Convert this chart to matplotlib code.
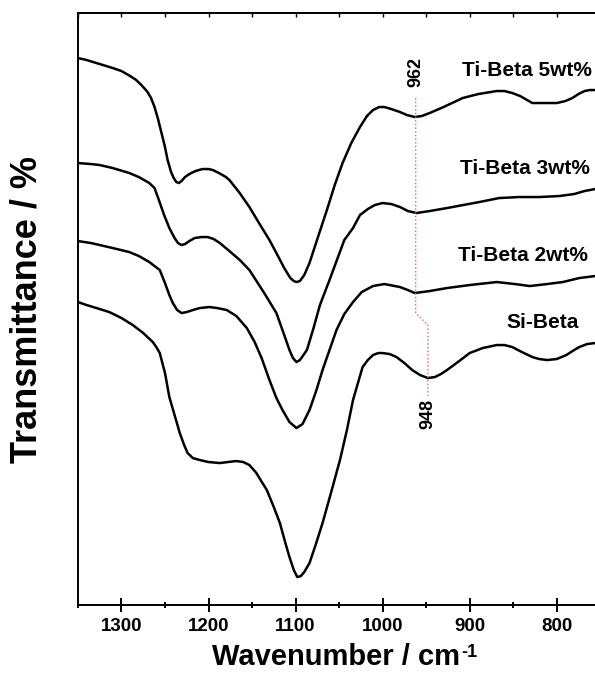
import matplotlib
matplotlib.use("Agg")
import matplotlib.pyplot as plt
from matplotlib.ticker import MultipleLocator

plt.rcParams["font.family"] = ["Liberation Sans", "DejaVu Sans"]
plt.rcParams["font.weight"] = "bold"

# FT-IR spectra, wavenumber (cm-1) vs transmittance (a.u.)
wn_5 = [1350, 1340, 1325, 1310, 1300, 1290, 1283, 1276, 1270, 1266, 1262, 1258, 1254,
        1250, 1247, 1243, 1240, 1237, 1234, 1231, 1227, 1222, 1215, 1207, 1200, 1195,
        1188, 1180, 1176, 1165, 1153, 1142, 1130, 1122, 1113, 1106, 1102, 1099, 1095,
        1090, 1084, 1075, 1064, 1055, 1046, 1036, 1026, 1018, 1011, 1004, 998, 990,
        980, 972, 963, 955, 946, 930, 908, 890, 869, 860, 851, 842, 834, 828, 823,
        812, 800, 790, 782, 775, 768, 762, 756]
t_5 = [547, 545, 541, 537, 534, 529, 525, 519, 513, 507, 498, 486, 472,
       458, 445, 433, 427, 423, 422, 424, 428, 431, 434, 436, 436, 435,
       432, 428, 425, 413, 398, 382, 365, 352, 337, 327, 324, 323, 324,
       330, 342, 366, 395, 420, 442, 462, 478, 489, 495, 498, 498, 496,
       493, 490, 488, 489, 492, 498, 507, 511, 514, 514, 512, 509, 505, 502, 502,
       502, 502, 504, 507, 511, 514, 515, 515]

wn_3 = [1350, 1335, 1325, 1310, 1291, 1280, 1268, 1262, 1257, 1251, 1245, 1239, 1235,
        1231, 1227, 1222, 1216, 1208, 1201, 1194, 1187, 1176, 1164, 1153, 1136, 1122,
        1113, 1107, 1103, 1099, 1095, 1087, 1080, 1072, 1061, 1044, 1034, 1026, 1017,
        1009, 1000, 990, 980, 971, 961, 946, 926, 889, 866, 843, 820, 797, 780, 768, 756]
t_3 = [442, 441, 440, 437, 432, 428, 422, 417, 405, 390, 377, 367, 362,
       360, 361, 364, 367, 368, 368, 366, 362, 354, 345, 335, 312, 292,
       270, 255, 247, 243, 245, 255, 275, 300, 325, 365, 377, 390, 396,
       400, 402, 401, 398, 394, 392, 394, 397, 403, 407, 408, 408, 409, 411, 414, 416]

wn_2 = [1350, 1335, 1325, 1310, 1291, 1280, 1268, 1262, 1256, 1250, 1245, 1241, 1236,
        1231, 1225, 1218, 1210, 1199, 1190, 1179, 1168, 1156, 1147, 1139, 1130, 1122,
        1115, 1107, 1099, 1092, 1084, 1076, 1069, 1061, 1053, 1044, 1034, 1024, 1011,
        998, 980, 971, 963, 946, 926, 900, 869, 848, 831, 811, 793, 774, 756]
t_2 = [364, 362, 360, 357, 353, 349, 343, 339, 335, 322, 310, 302, 295,
       292, 293, 295, 297, 298, 297, 295, 289, 277, 263, 247, 225, 207,
       195, 183, 177, 181, 195, 215, 235, 255, 275, 291, 303, 313, 319,
       321, 318, 315, 312, 314, 317, 320, 323, 321, 319, 321, 323, 327, 329]

wn_si = [1350, 1340, 1325, 1314, 1300, 1287, 1275, 1264, 1260, 1256, 1250, 1245, 1239,
         1233, 1228, 1224, 1218, 1210, 1200, 1187, 1178, 1168, 1160, 1153, 1145, 1138,
         1133, 1125, 1118, 1112, 1107, 1102, 1098, 1094, 1090, 1084, 1077, 1069, 1060,
         1049, 1041, 1034, 1028, 1023, 1017, 1011, 1005, 1000, 992, 984, 975, 966, 957,
         948, 940, 933, 926, 912, 900, 885, 869, 860, 851, 840, 828, 820, 811, 800,
         789, 780, 774, 765, 756]
t_si = [303, 300, 296, 293, 287, 280, 272, 263, 258, 252, 232, 208, 190,
        172, 160, 152, 147, 145, 143, 142, 143, 144, 143, 140, 132, 122,
        115, 98, 82, 63, 48, 35, 28, 29, 33, 42, 60, 82, 110,
        145, 175, 205, 223, 238, 245, 250, 252, 252, 251, 248, 242, 235, 230,
        227, 228, 231, 235, 244, 252, 257, 260, 260, 258, 253, 248, 246, 245, 246,
        250, 255, 258, 261, 262]

names = ["Ti-Beta 5wt%", "Ti-Beta 3wt%", "Ti-Beta 2wt%", "Si-Beta"]
name_x = [760, 762, 764, 775]
name_y = [535, 437, 350, 283]

# marker line 962 -> 948
mark_x = [962, 962, 948, 948]
mark_y = [507, 292, 280, 207]

fig = plt.figure(figsize=(5.95, 6.86), dpi=100)
ax = fig.add_axes([0.131, 0.118, 0.869, 0.863])

for wn, t in [(wn_5, t_5), (wn_3, t_3), (wn_2, t_2), (wn_si, t_si)]:
    ax.plot(wn, t, color="black", lw=1.8, solid_joinstyle="round", solid_capstyle="round")

ax.plot(mark_x, mark_y, color="#f06060", ls=":", lw=1.0)

for n, x, y in zip(names, name_x, name_y):
    ax.text(x, y, n, ha="right", va="center", fontsize=15, fontweight="bold")

ax.text(962, 533, "962", rotation=90, ha="center", va="center", fontsize=13, fontweight="bold")
ax.text(948, 191, "948", rotation=90, ha="center", va="center", fontsize=13, fontweight="bold")

ax.set_xlim(1350, 756)
ax.set_ylim(0, 592)
ax.set_yticks([])
ax.xaxis.set_major_locator(MultipleLocator(100))
ax.xaxis.set_minor_locator(MultipleLocator(50))
ax.tick_params(axis="x", which="major", direction="inout", length=10, width=1.4,
               labelsize=13.5, pad=4, top=False)
ax.tick_params(axis="x", which="minor", direction="inout", length=5, width=1.4, top=False)
for lab in ax.get_xticklabels():
    lab.set_fontweight("bold")

# small inward ticks on the top spine
sec = ax.secondary_xaxis("top")
sec.xaxis.set_major_locator(MultipleLocator(100))
sec.xaxis.set_minor_locator(MultipleLocator(50))
sec.tick_params(which="both", direction="in", length=3, width=1.0, labeltop=False)
sec.spines["top"].set_linewidth(1.4)

ax.spines["right"].set_visible(False)
for s in ["left", "bottom", "top"]:
    ax.spines[s].set_linewidth(1.4)

ax.set_xlabel("Wavenumber / cm", fontsize=21, fontweight="bold", labelpad=6)
ax.set_ylabel("Transmittance / %", fontsize=26, fontweight="bold", labelpad=24)

# superscript "-1" next to the x label
fig.canvas.draw()
bb = ax.xaxis.label.get_window_extent()
fw, fh = fig.bbox.width, fig.bbox.height
fig.text(bb.x1 / fw + 0.002, bb.y1 / fh - 0.002, "-1", fontsize=13, fontweight="bold",
         ha="left", va="top")

fig.savefig("out.png", dpi=100)
